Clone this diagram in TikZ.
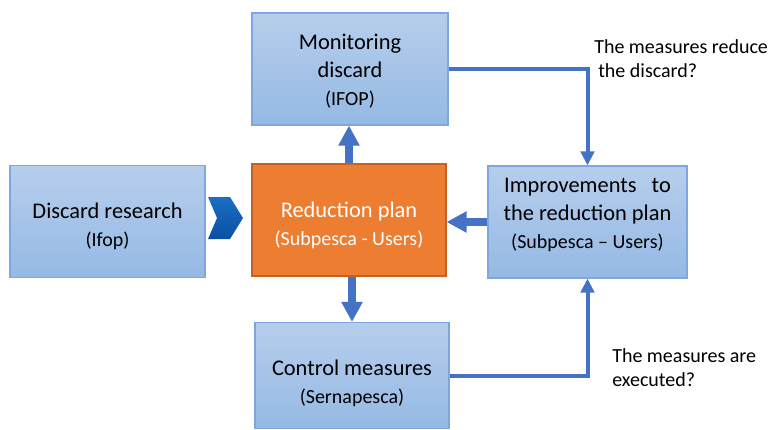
\documentclass[tikz,border=0pt]{standalone}
\usepackage{fontspec}
\setmainfont{Carlito}
\usetikzlibrary{arrows.meta}

\definecolor{boxtop}{RGB}{182,206,236}
\definecolor{boxbot}{RGB}{149,185,228}
\definecolor{boxline}{RGB}{125,167,222}
\definecolor{planfill}{RGB}{237,125,49}
\definecolor{planline}{RGB}{196,98,38}
\definecolor{arrblue}{RGB}{68,114,196}
\definecolor{chevtop}{RGB}{26,110,196}
\definecolor{chevbot}{RGB}{10,80,160}
\newcommand{\subln}[1]{{\fontsize{15}{21}\selectfont #1}}
\newcommand{\topstrut}[1]{\rule{0pt}{#1}}
\newcommand{\botstrut}[1]{\rule[-#1]{0pt}{0pt}}

\begin{document}
\begin{tikzpicture}[x=0.75pt, y=-0.75pt,
  box/.style={draw=boxline, line width=0.8pt, top color=boxtop, bottom color=boxbot,
    minimum width=147pt, minimum height=84pt, inner sep=0pt, align=center,
    font=\fontsize{16.8}{21}\selectfont},
  plan/.style={box, draw=planline, fill=planfill, top color=planfill, bottom color=planfill, text=white},
  fat/.style={arrblue, line width=6pt, -{Triangle[length=15pt,width=15pt]}},
  link/.style={arrblue, line width=3pt, -{Triangle[length=10.5pt,width=10pt]}},
  note/.style={inner sep=0pt, align=left, font=\fontsize{15}{18.5}\selectfont}]
\useasboundingbox (0,0) rectangle (771,429);

% boxes
\node[box, minimum width=146.25pt] (research) at (107.5,221.5) {\topstrut{19pt}Discard research\\\subln{(Ifop)}};
\node[box] (monitor) at (350,69) {\topstrut{15pt}Monitoring\\discard\\\subln{(IFOP)}};
\node[plan, minimum width=145.5pt] (plan) at (349,220) {\topstrut{19pt}Reduction plan\\\subln{(Subpesca - Users)}};
\node[box, minimum width=149.25pt] (improve) at (587.5,222) {Improvements~~ to\\the reduction plan\\\subln{(Subpesca -- Users)}\botstrut{12.5pt}};
\node[box, minimum width=145.5pt, minimum height=79.5pt] (control) at (352,375.5) {\topstrut{23pt}Control measures\\\subln{(Sernapesca)}};

% chevron
\shade[top color=chevtop, bottom color=chevbot] (208,197) -- (230,197) -- (243,218) -- (230,239) -- (208,239) -- (217,218) -- cycle;

% arrows
\draw[fat] (plan.north) -- (plan.north |- monitor.south);
\draw[fat] (control.north |- plan.south) -- (control.north);
\draw[fat] (improve.west) -- (improve.west -| plan.east);
\draw[link] (monitor.east) -| (improve.north);
\draw[link] (control.east) -| (improve.south);

% questions
\node[note, anchor=north west] (q1) at (594,39) {The measures reduce\\\hspace*{3pt}the discard?};
\node[note, anchor=north west] (q2) at (612,348) {The measures are\\executed?};
\end{tikzpicture}
\end{document}
